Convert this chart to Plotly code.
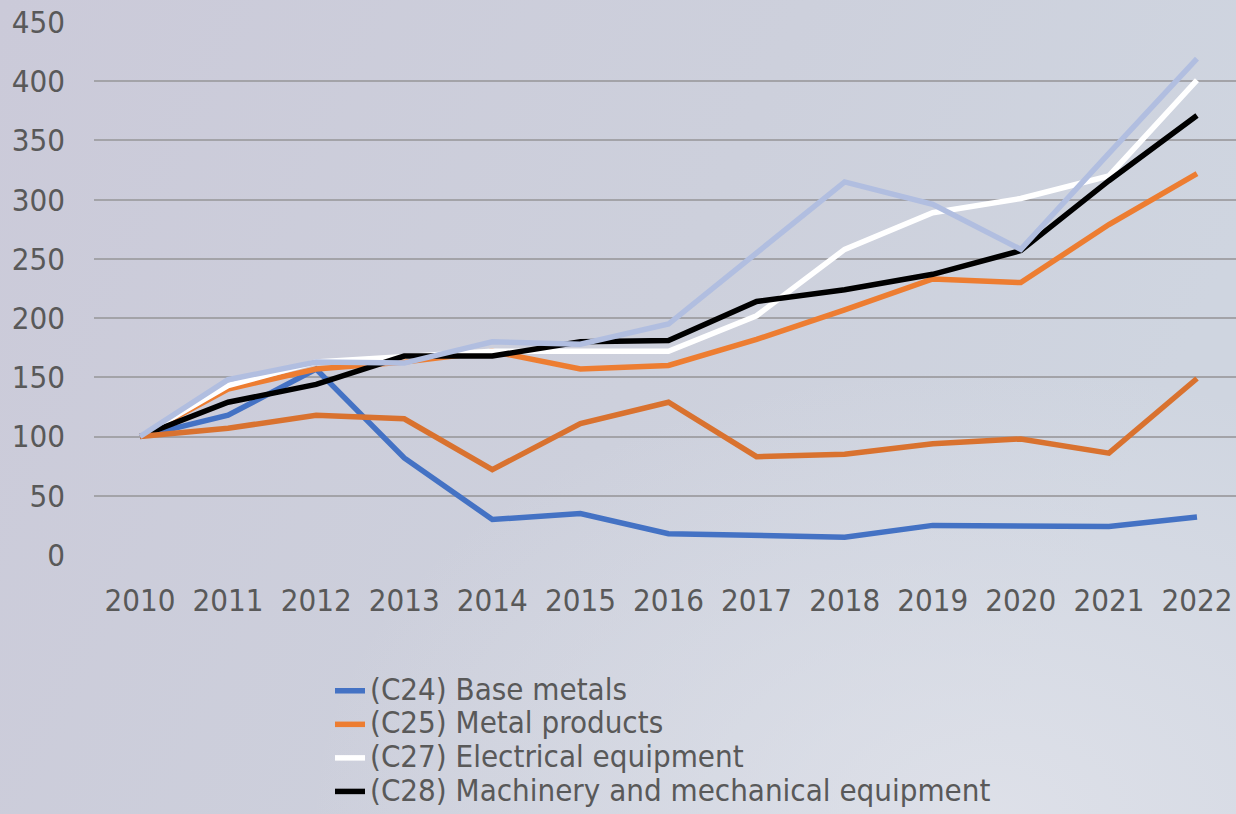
import plotly.graph_objects as go

years = [2010, 2011, 2012, 2013, 2014, 2015, 2016, 2017, 2018, 2019, 2020, 2021, 2022]

c24_base_metals = [100, 118, 157, 82, 30, 35, 18, 17, 15, 25, 24, 24, 32]
c25_metal_products = [100, 140, 157, 163, 172, 157, 160, 182, 207, 233, 230, 279, 322]
c27_electrical = [100, 143, 163, 168, 172, 172, 172, 202, 258, 289, 301, 320, 401]
c28_machinery = [100, 129, 144, 168, 168, 180, 181, 214, 224, 237, 257, 316, 371]
series5_dark_orange = [100, 107, 118, 115, 72, 111, 129, 83, 85, 94, 98, 86, 149]
series6_light_blue = [100, 148, 163, 162, 180, 178, 195, 255, 315, 296, 258, 339, 419]

y_ticks = [0, 50, 100, 150, 200, 250, 300, 350, 400, 450]

traces = [
    ("(C24) Base metals", c24_base_metals, "#4472C4", True),
    ("(C25) Metal products", c25_metal_products, "#ED7D31", True),
    ("(C27) Electrical equipment", c27_electrical, "#FFFFFF", True),
    ("(C28) Machinery and mechanical equipment", c28_machinery, "#000000", True),
    ("Series 5", series5_dark_orange, "#D9722F", False),
    ("Series 6", series6_light_blue, "#B1BEE0", False),
]

font_family = "DejaVu Sans Condensed, DejaVu Sans, sans-serif"
text_color = "#595959"

fig = go.Figure()
for name, vals, color, show in traces:
    fig.add_trace(go.Scatter(
        x=years, y=vals,
        name='<span style="font-size:31px">' + name + '</span>',
        mode="lines",
        line=dict(color=color, width=5.5),
        showlegend=show,
    ))

bg_svg = (
    "data:image/svg+xml;utf8,"
    "<svg xmlns='http://www.w3.org/2000/svg' width='1236' height='814'>"
    "<defs><linearGradient id='g' x1='0' y1='0' x2='1' y2='0.3'>"
    "<stop offset='0' stop-color='%23CBCAD9'/>"
    "<stop offset='0.6' stop-color='%23CDD0DC'/>"
    "<stop offset='1' stop-color='%23CFD5E0'/>"
    "</linearGradient>"
    "<radialGradient id='r' cx='0.8' cy='1.0' r='0.55'>"
    "<stop offset='0' stop-color='%23E0E2EA' stop-opacity='0.85'/>"
    "<stop offset='1' stop-color='%23E0E2EA' stop-opacity='0'/>"
    "</radialGradient></defs>"
    "<rect width='1236' height='814' fill='url(%23g)'/>"
    "<rect width='1236' height='814' fill='url(%23r)'/>"
    "</svg>"
)

plot_h = 533.0
plot_w = 1142.0

fig.update_layout(
    width=1236, height=814,
    margin=dict(l=94, r=0, t=22, b=259),
    paper_bgcolor="#CDCFDB",
    plot_bgcolor="rgba(0,0,0,0)",
    font=dict(family=font_family, color=text_color, size=30),
    images=[dict(
        source=bg_svg, xref="paper", yref="paper",
        x=-94 / plot_w, y=1 + 22 / plot_h, sizex=1236 / plot_w, sizey=814 / plot_h,
        xanchor="left", yanchor="top", sizing="stretch", layer="below",
    )],
    legend=dict(
        x=(330 - 94) / plot_w, y=-(669.5 - 555) / plot_h,
        xanchor="left", yanchor="top",
        bgcolor="rgba(0,0,0,0)",
        font=dict(size=23.5, color=text_color, family=font_family),
        tracegroupgap=0,
    ),
    xaxis=dict(
        range=[2009.478, 2022.443],
        tickmode="array", tickvals=years, ticktext=[str(y) for y in years],
        tickangle=0,
        showgrid=False, zeroline=False, showline=False,
        ticks="", ticklabelstandoff=24,
        tickfont=dict(size=31, color=text_color),
    ),
    yaxis=dict(
        range=[0, 450],
        tickmode="array", tickvals=y_ticks,
        showgrid=True, gridcolor="#A3A3A8", gridwidth=2,
        zeroline=False, showline=False, ticks="",
        ticklabelstandoff=28,
        tickfont=dict(size=31, color=text_color),
    ),
)

fig.write_html(
    "out.html",
    config={"displayModeBar": False},
    post_script="document.body.style.margin='0';document.body.style.background='#CDCFDB';",
)
